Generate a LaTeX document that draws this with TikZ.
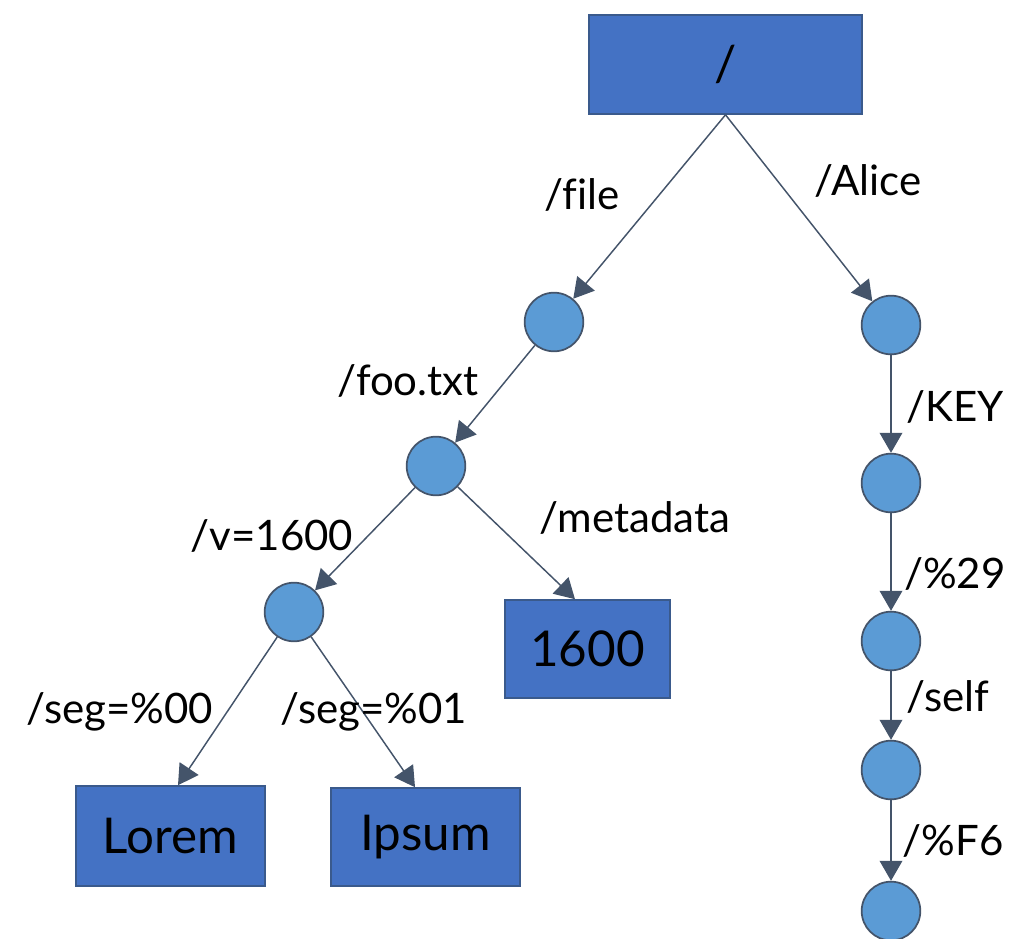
\documentclass[tikz,border=0pt]{standalone}
\usepackage{fontspec}
\setmainfont[Ligatures={NoCommon}]{Lato}
\usetikzlibrary{arrows.meta}
\definecolor{boxfill}{HTML}{4472C4}
\definecolor{boxline}{HTML}{3A5A8C}
\definecolor{circfill}{HTML}{5B9BD5}
\definecolor{edgecol}{HTML}{44546A}
\tikzset{
  box/.style={draw=boxline, line width=1.2pt, fill=boxfill, rectangle, inner sep=0pt, font=\fontsize{37}{40}\selectfont},
  dot/.style={draw=edgecol, line width=1.3pt, fill=circfill, circle, minimum size=44pt, inner sep=0pt},
  edge/.style={draw=edgecol, line width=1.1pt, -{Triangle[width=17pt,length=15pt]}},
  lbl/.style={font=\fontsize{31.5}{34}\selectfont, inner sep=0pt}
}
\begin{document}
\begin{tikzpicture}[x=0.75pt,y=-0.75pt]
\useasboundingbox (0,0) rectangle (1036,939);
\node[box, minimum width=204.75pt, minimum height=74.25pt] (root) at (725.5,64.5) {/};
\node[box, minimum width=123.75pt, minimum height=73.5pt] (m) at (587.5,649) {1600};
\node[box, minimum width=141.75pt, minimum height=75pt] (lorem) at (170.5,836) {Lorem};
\node[box, minimum width=141.75pt, minimum height=73.5pt] (ipsum) at (425.5,837) {Ipsum};
\node[dot] (A) at (554,322) {};
\node[dot] (C) at (436,466) {};
\node[dot] (E) at (294,612) {};
\node[dot] (B) at (891,325) {};
\node[dot] (D) at (891,483) {};
\node[dot] (F) at (891,641) {};
\node[dot] (G) at (891,770) {};
\node[dot] (H) at (891,911) {};
\draw[edge] (root.south) -- (A);
\draw[edge] (root.south) -- (B);
\draw[edge] (A) -- (C);
\draw[edge] (C) -- (E);
\draw[edge] (C) -- (m.north west -| 575,0);
\draw[edge] (E) -- (lorem.north -| 178,0);
\draw[edge] (E) -- (ipsum.north -| 415,0);
\draw[edge] (B) -- (D);
\draw[edge] (D) -- (F);
\draw[edge] (F) -- (G);
\draw[edge] (G) -- (H);
\node[lbl] (l1) at (582,195) {/file};
\node[lbl] (l2) at (868,181) {/Alice};
\node[lbl] (l3) at (408,381) {/foo.txt};
\node[lbl] (l4) at (955,407) {/KEY};
\node[lbl] (l5) at (272,536) {/v=1600};
\node[lbl] (l6) at (635,518) {/metadata};
\node[lbl] (l7) at (955,574) {/\%29};
\node[lbl] (l8) at (948,697) {/self};
\node[lbl] (l9) at (953,841) {/\%F6};
\node[lbl] (l10) at (120,712) {/seg=\%00};
\node[lbl] (l11) at (374,712) {/seg=\%01};
\end{tikzpicture}
\end{document}
